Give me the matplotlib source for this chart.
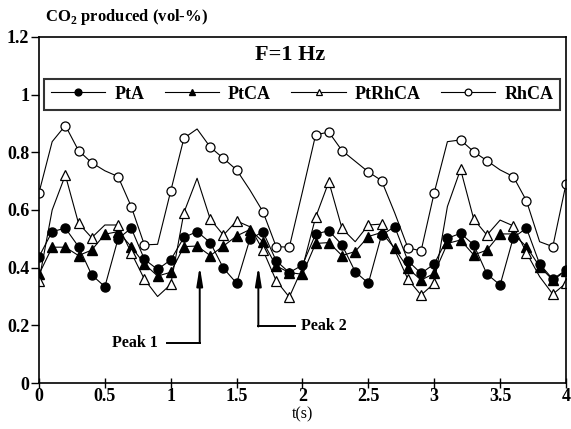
import numpy as np
import matplotlib
matplotlib.use("Agg")
import matplotlib.pyplot as plt

plt.rcParams['font.family'] = ['Liberation Serif', 'DejaVu Serif']
plt.rcParams['font.weight'] = 'bold'
plt.rcParams['mathtext.fontset'] = 'custom'
plt.rcParams['mathtext.rm'] = 'Liberation Serif:bold'

# time axis, 0.1 s steps
t = np.round(np.arange(0, 4.01, 0.1), 2)

pta = [0.438, 0.525, 0.537, 0.473, 0.375, 0.334, 0.500, 0.537, 0.429, 0.394,
       0.427, 0.505, 0.525, 0.487, 0.398, 0.346, 0.498, 0.525, 0.424, 0.383,
       0.409, 0.517, 0.528, 0.479, 0.386, 0.346, 0.513, 0.542, 0.424, 0.380,
       0.413, 0.502, 0.519, 0.479, 0.378, 0.340, 0.504, 0.537, 0.413, 0.360,
       0.392]
ptca = [0.377, 0.471, 0.471, 0.442, 0.461, 0.516, 0.525, 0.473, 0.413, 0.371,
        0.384, 0.473, 0.475, 0.442, 0.475, 0.510, 0.532, 0.490, 0.406, 0.383,
        0.377, 0.484, 0.487, 0.442, 0.456, 0.508, 0.522, 0.467, 0.398, 0.357,
        0.380, 0.484, 0.496, 0.444, 0.461, 0.517, 0.517, 0.473, 0.404, 0.357,
        0.389]
ptrhca = [0.355, 0.600, 0.721, 0.554, 0.504, 0.548, 0.548, 0.452, 0.360, 0.300,
          0.342, 0.591, 0.710, 0.568, 0.513, 0.562, 0.542, 0.461, 0.355, 0.298,
          0.400, 0.575, 0.698, 0.536, 0.490, 0.548, 0.551, 0.461, 0.360, 0.305,
          0.346, 0.612, 0.741, 0.568, 0.513, 0.565, 0.545, 0.452, 0.369, 0.308,
          0.346]
rhca = [0.660, 0.837, 0.893, 0.806, 0.764, 0.736, 0.716, 0.612, 0.479, 0.481,
        0.666, 0.849, 0.881, 0.818, 0.779, 0.739, 0.670, 0.594, 0.473, 0.471,
        0.664, 0.861, 0.870, 0.806, 0.769, 0.732, 0.702, 0.590, 0.469, 0.458,
        0.660, 0.837, 0.843, 0.802, 0.771, 0.739, 0.716, 0.632, 0.490, 0.473,
        0.690]

# points drawn without a marker in the original
no_marker = [1, 5, 9, 12, 16, 20, 24, 27, 31, 35, 38]
shown = [i for i in range(len(t)) if i not in no_marker]

xticks = [0, 0.5, 1, 1.5, 2, 2.5, 3, 3.5, 4]
xtick_labels = ['0', '0.5', '1', '1.5', '2', '2.5', '3', '3.5', '4']
yticks = [0, 0.2, 0.4, 0.6, 0.8, 1.0, 1.2]
ytick_labels = ['0', '0.2', '0.4', '0.6', '0.8', '1', '1.2']

# (label, text pos, corner, arrow tip)
peaks = [('Peak 1', (0.90, 0.139), (1.22, 0.139), (1.22, 0.405)),
         ('Peak 2', (1.99, 0.196), (1.665, 0.196), (1.665, 0.405))]

fig = plt.figure(figsize=(5.71, 4.29), dpi=100)
ax = fig.add_axes([0.0683, 0.1072, 0.9229, 0.8066])

lw = 0.8
ax.plot(t, pta, '-', color='k', lw=lw, marker='o', ms=6.5, mfc='k', mec='k', label='PtA')
ax.plot(t, ptca, '-', color='k', lw=lw, marker='^', ms=6.5, mfc='k', mec='k', label='PtCA')
ax.plot(t, ptrhca, '-', color='k', lw=lw, marker='^', ms=6.5, mfc='white', mec='k',
        mew=0.9, markevery=shown, label='PtRhCA')
ax.plot(t, rhca, '-', color='k', lw=lw, marker='o', ms=6.5, mfc='white', mec='k',
        mew=0.9, markevery=shown, label='RhCA')

for name, txt, corner, tip in peaks:
    if txt[0] < corner[0]:
        ax.text(txt[0], txt[1], name, ha='right', va='center', fontsize=11.5)
        ax.plot([txt[0] + 0.07, corner[0]], [txt[1], corner[1]], color='k', lw=1.4)
    else:
        ax.text(txt[0], txt[1], name, ha='left', va='center', fontsize=11.5)
        ax.plot([corner[0], txt[0] - 0.05], [corner[1], txt[1]], color='k', lw=1.4)
    ax.annotate('', xy=tip, xytext=corner,
                arrowprops=dict(arrowstyle='-|>,head_length=1.1,head_width=0.18',
                                color='k', lw=1.4, shrinkA=0, shrinkB=0))

ax.set_xlim(0, 4)
ax.set_ylim(0, 1.2)
ax.set_xticks(xticks)
ax.set_xticklabels(xtick_labels)
ax.set_yticks(yticks)
ax.set_yticklabels(ytick_labels)
ax.tick_params(axis='x', direction='inout', length=7, width=1, labelsize=13, pad=0)
ax.tick_params(axis='y', direction='out', length=6, width=1, labelsize=13, pad=1)
for s in ax.spines.values():
    s.set_linewidth(1.2)

ax.set_xlabel('t(s)', fontsize=11.5, labelpad=1)
fig.text(0.079, 0.96, 'CO$_2$ produced (vol-%)', fontsize=12, ha='left', va='center')
ax.text(0.476, 0.948, 'F=1 Hz', transform=ax.transAxes, fontsize=16,
        ha='center', va='center')

leg = ax.legend(loc='lower left', bbox_to_anchor=(0.0095, 0.789, 0.98, 0.107),
                mode='expand', ncol=4, fontsize=13, frameon=True, fancybox=False,
                handlelength=3.0, borderaxespad=0, handletextpad=0.5, markerscale=0.75)
leg.get_frame().set_edgecolor('k')
leg.get_frame().set_linewidth(1.5)

fig.savefig('out.png', dpi=100)
